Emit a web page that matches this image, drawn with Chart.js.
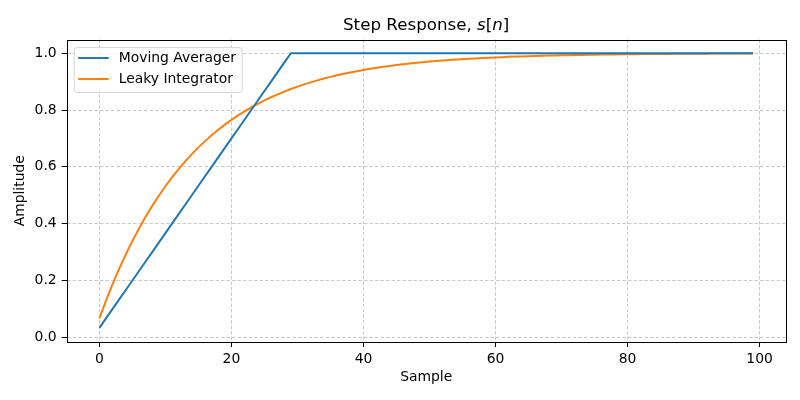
<!DOCTYPE html>
<html>
<head>
<meta charset="utf-8">
<script src="https://cdn.jsdelivr.net/npm/chart.js@4.4.0/dist/chart.umd.min.js"></script>
<style>
  html, body { margin: 0; padding: 0; background: #fff; }
</style>
</head>
<body>
<canvas id="myChart" width="800" height="400"></canvas>
<script>
// step response of the two filters, sample n = 0..99
var movingAvg = [
  0.0333, 0.0667, 0.1000, 0.1333, 0.1667, 0.2000, 0.2333, 0.2667, 0.3000, 0.3333,
  0.3667, 0.4000, 0.4333, 0.4667, 0.5000, 0.5333, 0.5667, 0.6000, 0.6333, 0.6667,
  0.7000, 0.7333, 0.7667, 0.8000, 0.8333, 0.8667, 0.9000, 0.9333, 0.9667, 1.0000,
  1, 1, 1, 1, 1, 1, 1, 1, 1, 1,
  1, 1, 1, 1, 1, 1, 1, 1, 1, 1,
  1, 1, 1, 1, 1, 1, 1, 1, 1, 1,
  1, 1, 1, 1, 1, 1, 1, 1, 1, 1,
  1, 1, 1, 1, 1, 1, 1, 1, 1, 1,
  1, 1, 1, 1, 1, 1, 1, 1, 1, 1,
  1, 1, 1, 1, 1, 1, 1, 1, 1, 1
];
var leaky = [
  0.0667, 0.1289, 0.1870, 0.2412, 0.2918, 0.3390, 0.3830, 0.4242, 0.4626, 0.4984,
  0.5318, 0.5630, 0.5922, 0.6194, 0.6447, 0.6684, 0.6905, 0.7112, 0.7304, 0.7484,
  0.7652, 0.7808, 0.7954, 0.8091, 0.8218, 0.8337, 0.8448, 0.8551, 0.8648, 0.8738,
  0.8822, 0.8901, 0.8974, 0.9042, 0.9106, 0.9166, 0.9221, 0.9273, 0.9322, 0.9367,
  0.9409, 0.9449, 0.9485, 0.9520, 0.9552, 0.9582, 0.9609, 0.9635, 0.9660, 0.9682,
  0.9704, 0.9723, 0.9742, 0.9759, 0.9775, 0.9790, 0.9804, 0.9817, 0.9829, 0.9841,
  0.9851, 0.9861, 0.9870, 0.9879, 0.9887, 0.9895, 0.9902, 0.9908, 0.9914, 0.9920,
  0.9925, 0.9930, 0.9935, 0.9939, 0.9943, 0.9947, 0.9951, 0.9954, 0.9957, 0.9960,
  0.9963, 0.9965, 0.9967, 0.9970, 0.9972, 0.9974, 0.9975, 0.9977, 0.9978, 0.9980,
  0.9981, 0.9982, 0.9984, 0.9985, 0.9986, 0.9987, 0.9988, 0.9988, 0.9989, 0.9990
];
var seriesNames = ["Moving Averager", "Leaky Integrator"];
var seriesColors = ["#1f77b4", "#ff7f0e"];
var xTicks = [0, 20, 40, 60, 80, 100];
var yTicks = [0.0, 0.2, 0.4, 0.6, 0.8, 1.0];
// title pieces: [text, italic?]
var titleParts = [["Step Response, ", false], ["s", true], ["[", false], ["n", true], ["]", false]];

var FONT = "'DejaVu Sans', sans-serif";

function toPoints(arr) {
  return arr.map(function (v, i) { return { x: i, y: v }; });
}

// black box round the plot, like matplotlib spines
var frame = {
  id: "frame",
  afterDatasetsDraw: function (chart) {
    var a = chart.chartArea, ctx = chart.ctx;
    ctx.save();
    ctx.strokeStyle = "#000";
    ctx.lineWidth = 1;
    ctx.strokeRect(Math.round(a.left) + 0.5, Math.round(a.top) + 0.5,
      Math.round(a.right - a.left), Math.round(a.bottom - a.top));
    ctx.restore();
  }
};

// title with italic math letters (the built-in title only keeps the space)
var mathTitle = {
  id: "mathTitle",
  afterDraw: function (chart) {
    var tb = chart.titleBlock, ctx = chart.ctx;
    var cx = (tb.left + tb.right) / 2, cy = tb.top + 16 + 10;
    ctx.save();
    ctx.textBaseline = "middle";
    ctx.textAlign = "left";
    ctx.fillStyle = "#000";
    var total = 0;
    titleParts.forEach(function (p) {
      ctx.font = (p[1] ? "oblique " : "") + "16.7px " + FONT;
      total += ctx.measureText(p[0]).width;
    });
    var x = cx - total / 2;
    titleParts.forEach(function (p) {
      ctx.font = (p[1] ? "oblique " : "") + "16.7px " + FONT;
      ctx.fillText(p[0], x, cy);
      x += ctx.measureText(p[0]).width;
    });
    ctx.restore();
  }
};

// legend inside the axes, upper left
var innerLegend = {
  id: "innerLegend",
  afterDraw: function (chart) {
    var a = chart.chartArea, ctx = chart.ctx;
    var x0 = a.left + 7, y0 = a.top + 7.5, w = 168, h = 45, r = 3;
    ctx.save();
    ctx.beginPath();
    ctx.roundRect(x0 + 0.5, y0 + 0.5, w, h, r);
    ctx.fillStyle = "rgba(255,255,255,0.8)";
    ctx.fill();
    ctx.strokeStyle = "#d6d6d6";
    ctx.lineWidth = 1;
    ctx.stroke();
    ctx.font = "13.9px " + FONT;
    ctx.textBaseline = "middle";
    chart.data.datasets.forEach(function (ds, i) {
      var y = y0 + 11 + i * 21;
      ctx.strokeStyle = ds.borderColor;
      ctx.lineWidth = 2;
      ctx.beginPath();
      ctx.moveTo(x0 + 4.5, y);
      ctx.lineTo(x0 + 35, y);
      ctx.stroke();
      ctx.fillStyle = "#000";
      ctx.fillText(ds.label, x0 + 45, y);
    });
    ctx.restore();
  }
};

new Chart("myChart", {
  type: "line",
  data: {
    datasets: [
      { label: seriesNames[0], data: toPoints(movingAvg), borderColor: seriesColors[0], backgroundColor: seriesColors[0], borderWidth: 2, pointRadius: 0, tension: 0 },
      { label: seriesNames[1], data: toPoints(leaky), borderColor: seriesColors[1], backgroundColor: seriesColors[1], borderWidth: 2, pointRadius: 0, tension: 0 }
    ]
  },
  options: {
    responsive: false,
    animation: false,
    devicePixelRatio: 1,
    layout: { padding: { left: 0, right: 14.3, top: 0, bottom: 0 } },
    plugins: {
      legend: { display: false },
      tooltip: { enabled: false },
      title: {
        display: true,
        fullSize: false,
        text: "Step Response, s[n]",
        color: "rgba(0,0,0,0)",
        font: { family: FONT, size: 16.7, weight: "normal" },
        padding: { top: 16, bottom: 3.5 }
      }
    },
    scales: {
      x: {
        type: "linear",
        min: -4.95,
        max: 103.95,
        afterBuildTicks: function (s) { s.ticks = xTicks.map(function (v) { return { value: v }; }); },
        afterFit: function (s) { s.height = 58; },
        ticks: {
          color: "#000",
          font: { family: FONT, size: 13.9 },
          padding: 4,
          maxRotation: 0,
          callback: function (v) { return String(v); }
        },
        grid: { color: "#bdbdbd", lineWidth: 0.8, tickColor: "#000", tickLength: 5, tickWidth: 1 },
        border: { display: false, dash: [3.5, 2] },
        title: {
          display: true,
          text: "Sample",
          color: "#000",
          font: { family: FONT, size: 13.9 },
          padding: { top: 0, bottom: 14 }
        }
      },
      y: {
        type: "linear",
        min: -0.0165,
        max: 1.048,
        afterBuildTicks: function (s) { s.ticks = yTicks.map(function (v) { return { value: v }; }); },
        afterFit: function (s) { s.width = 66.7; },
        ticks: {
          color: "#000",
          font: { family: FONT, size: 13.9 },
          padding: 5,
          callback: function (v) { return Number(v).toFixed(1); }
        },
        grid: { color: "#bdbdbd", lineWidth: 0.8, tickColor: "#000", tickLength: 5, tickWidth: 1 },
        border: { display: false, dash: [3.5, 2] },
        title: {
          display: true,
          text: "Amplitude",
          color: "#000",
          font: { family: FONT, size: 13.9 },
          padding: { top: 12, bottom: 0 }
        }
      }
    }
  },
  plugins: [frame, mathTitle, innerLegend]
});
</script>
</body>
</html>
